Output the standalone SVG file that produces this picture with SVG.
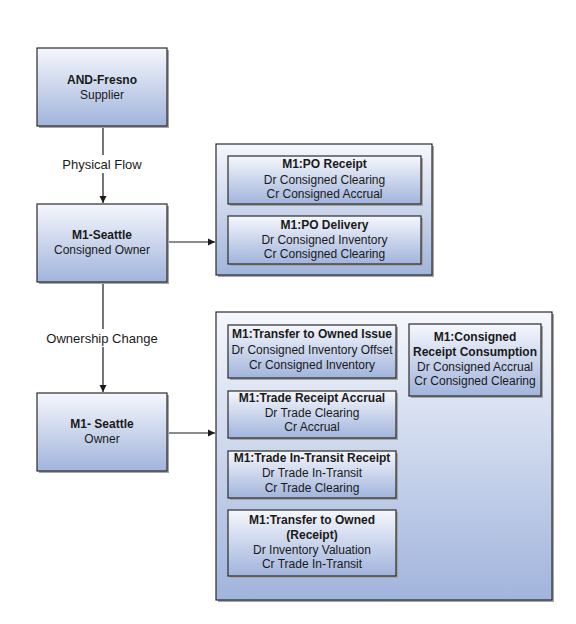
<svg xmlns="http://www.w3.org/2000/svg" width="576" height="624" viewBox="0 0 576 624">
<defs>
<linearGradient id="g" x1="0" y1="0" x2="0" y2="1">
<stop offset="0" stop-color="#f5f7fc"/>
<stop offset="1" stop-color="#a1b4dc"/>
</linearGradient>
<marker id="arr" markerWidth="8" markerHeight="8" refX="7" refY="4" orient="auto" markerUnits="userSpaceOnUse">
<path d="M0,0.5 L7,4 L0,7.5 Z" fill="#1a1a1a"/>
</marker>
</defs>
<style>
.sh{fill:#a6a6a6;}
.bx{fill:url(#g);stroke:#2b2b2b;stroke-width:1.2;}
text{font-family:"Liberation Sans",Arial,sans-serif;font-size:12px;fill:#1a1a1a;text-anchor:middle;}
.b{font-weight:bold;}
.ln{stroke:#1a1a1a;stroke-width:1.2;fill:none;}
.lbl{font-size:13px;}
</style>
<rect width="576" height="624" fill="#ffffff"/>

<g id="connectors">
<line class="ln" x1="103" y1="127" x2="103" y2="203" marker-end="url(#arr)"/>
<rect x="58" y="155" width="90" height="18" fill="#ffffff"/>
<text class="lbl" x="102" y="169">Physical Flow</text>
<line class="ln" x1="103" y1="283" x2="103" y2="392" marker-end="url(#arr)"/>
<rect x="42" y="329" width="122" height="18" fill="#ffffff"/>
<text class="lbl" x="102" y="343">Ownership Change</text>
<line class="ln" x1="168" y1="242" x2="215" y2="242" marker-end="url(#arr)"/>
<line class="ln" x1="168" y1="433" x2="215" y2="433" marker-end="url(#arr)"/>
</g>

<g id="node-and-fresno">
<rect class="sh" x="39" y="50" width="130" height="78"/>
<rect class="bx" x="37" y="48" width="130" height="78"/>
<text class="b" x="102" y="84">AND-Fresno</text>
<text x="102" y="99">Supplier</text>
</g>

<g id="node-m1-seattle-consigned">
<rect class="sh" x="39" y="206" width="130" height="78"/>
<rect class="bx" x="37" y="204" width="130" height="78"/>
<text class="b" x="102" y="239">M1-Seattle</text>
<text x="102" y="254">Consigned Owner</text>
</g>

<g id="node-m1-seattle-owner">
<rect class="sh" x="39" y="395" width="130" height="78"/>
<rect class="bx" x="37" y="393" width="130" height="78"/>
<text class="b" x="102" y="428">M1- Seattle</text>
<text x="102" y="443">Owner</text>
</g>

<g id="group-consigned">
<rect class="sh" x="218" y="146" width="216" height="131"/>
<rect class="bx" x="216" y="144" width="216" height="131"/>
<g id="node-po-receipt">
<rect class="sh" x="230" y="158" width="193" height="48"/>
<rect class="bx" x="228" y="156" width="193" height="48"/>
<text class="b" x="324.5" y="168">M1:PO Receipt</text>
<text x="324.5" y="184">Dr Consigned Clearing</text>
<text x="324.5" y="198">Cr Consigned Accrual</text>
</g>
<g id="node-po-delivery">
<rect class="sh" x="230" y="218" width="193" height="48"/>
<rect class="bx" x="228" y="216" width="193" height="48"/>
<text class="b" x="324.5" y="229">M1:PO Delivery</text>
<text x="324.5" y="244">Dr Consigned Inventory</text>
<text x="324.5" y="258">Cr Consigned Clearing</text>
</g>
</g>

<g id="group-owned">
<rect class="sh" x="218" y="314" width="336" height="288"/>
<rect class="bx" x="216" y="312" width="336" height="288"/>
<g id="node-transfer-issue">
<rect class="sh" x="230" y="327" width="168" height="53"/>
<rect class="bx" x="228" y="325" width="168" height="53"/>
<text class="b" x="312" y="338">M1:Transfer to Owned Issue</text>
<text x="312" y="354">Dr Consigned Inventory Offset</text>
<text x="312" y="369">Cr Consigned Inventory</text>
</g>
<g id="node-consumption">
<rect class="sh" x="411" y="326" width="132" height="72"/>
<rect class="bx" x="409" y="324" width="132" height="72"/>
<text class="b" x="475" y="341">M1:Consigned</text>
<text class="b" x="475" y="356">Receipt Consumption</text>
<text x="475" y="371">Dr Consigned Accrual</text>
<text x="475" y="385">Cr Consigned Clearing</text>
</g>
<g id="node-trade-receipt">
<rect class="sh" x="230" y="393" width="168" height="47"/>
<rect class="bx" x="228" y="391" width="168" height="47"/>
<text class="b" x="312" y="402">M1:Trade Receipt Accrual</text>
<text x="312" y="417">Dr Trade Clearing</text>
<text x="312" y="431">Cr Accrual</text>
</g>
<g id="node-trade-intransit">
<rect class="sh" x="230" y="453" width="168" height="47"/>
<rect class="bx" x="228" y="451" width="168" height="47"/>
<text class="b" x="312" y="462">M1:Trade In-Transit Receipt</text>
<text x="312" y="477">Dr Trade In-Transit</text>
<text x="312" y="492">Cr Trade Clearing</text>
</g>
<g id="node-transfer-receipt">
<rect class="sh" x="230" y="512" width="168" height="66"/>
<rect class="bx" x="228" y="510" width="168" height="66"/>
<text class="b" x="312" y="524">M1:Transfer to Owned</text>
<text class="b" x="312" y="539">(Receipt)</text>
<text x="312" y="554">Dr Inventory Valuation</text>
<text x="312" y="568">Cr Trade In-Transit</text>
</g>
</g>
</svg>
